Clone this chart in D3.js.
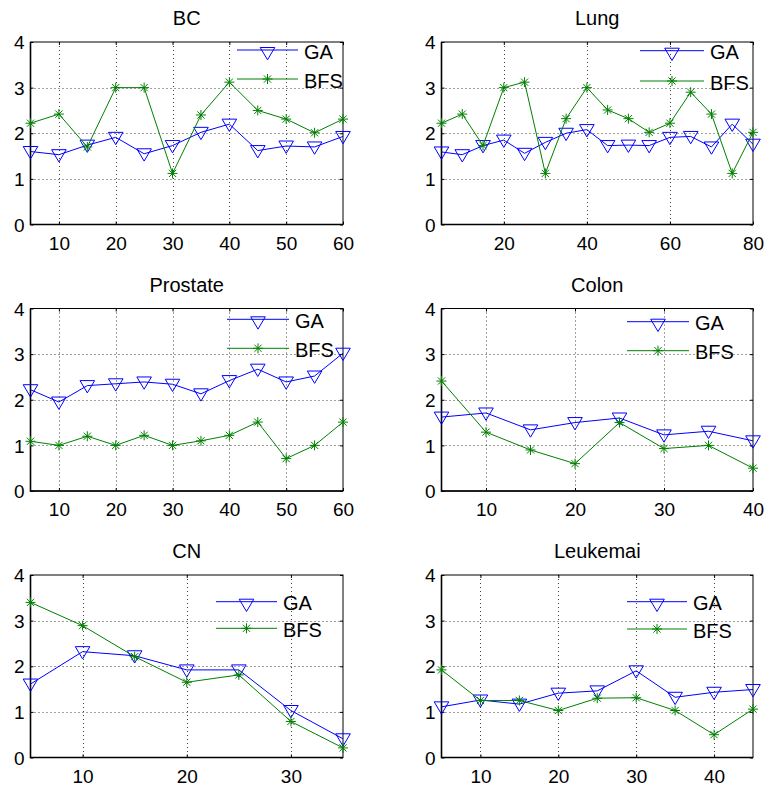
<!DOCTYPE html>
<html lang="en">
<head>
  <meta charset="UTF-8">
  <title>GA vs BFS</title>
  <script src="https://d3js.org/d3.v7.min.js"></script>
  <style>
    body { margin: 0; background: #fff; }
    svg { display: block; font-family: "Liberation Sans", Arial, sans-serif; }
    .tick text { font-size: 19px; fill: #000; }
    .tick line { stroke: #000; }
    .grid { stroke: #000; stroke-width: 1; stroke-dasharray: 1,3; opacity: 0.75; }
    .title { font-size: 20px; text-anchor: middle; }
    .legend text { font-size: 20px; }
  </style>
</head>
<body>
  <div id="chart"></div>
  <script>
    // --- data ---
    const titles = ["BC", "Lung", "Prostate", "Colon", "CN", "Leukemai"];

    const xBC = [5, 10, 15, 20, 25, 30, 35, 40, 45, 50, 55, 60];
    const gaBC = [1.6, 1.53, 1.74, 1.91, 1.55, 1.73, 2.02, 2.2, 1.62, 1.72, 1.7, 1.93];
    const bfsBC = [2.22, 2.42, 1.7, 3.0, 3.0, 1.12, 2.4, 3.12, 2.5, 2.31, 2.01, 2.31];

    const xLung = [5, 10, 15, 20, 25, 30, 35, 40, 45, 50, 55, 60, 65, 70, 75, 80];
    const gaLung = [1.59, 1.53, 1.73, 1.85, 1.56, 1.8, 2.0, 2.08, 1.73, 1.74, 1.73, 1.91, 1.93, 1.7, 2.2, 1.76];
    const bfsLung = [2.22, 2.42, 1.73, 3.0, 3.12, 1.12, 2.32, 3.0, 2.51, 2.32, 2.02, 2.22, 2.9, 2.42, 1.12, 2.02];

    const xProstate = [5, 10, 15, 20, 25, 30, 35, 40, 45, 50, 55, 60];
    const gaProstate = [2.22, 1.95, 2.31, 2.35, 2.39, 2.34, 2.13, 2.42, 2.67, 2.39, 2.52, 3.02];
    const bfsProstate = [1.09, 1.0, 1.2, 1.0, 1.22, 1.0, 1.1, 1.22, 1.51, 0.71, 1.0, 1.51];

    const xColon = [5, 10, 15, 20, 25, 30, 35, 40];
    const gaColon = [1.62, 1.71, 1.34, 1.5, 1.6, 1.23, 1.31, 1.1];
    const bfsColon = [2.41, 1.29, 0.9, 0.6, 1.5, 0.93, 1.0, 0.5];

    const xCN = [5, 10, 15, 20, 25, 30, 35];
    const gaCN = [1.61, 2.32, 2.23, 1.92, 1.92, 1.03, 0.41];
    const bfsCN = [3.4, 2.89, 2.21, 1.65, 1.81, 0.79, 0.21];

    const xLeuk = [5, 10, 15, 20, 25, 30, 35, 40, 45];
    const gaLeuk = [1.11, 1.26, 1.17, 1.41, 1.46, 1.9, 1.32, 1.43, 1.49];
    const bfsLeuk = [1.92, 1.25, 1.25, 1.03, 1.3, 1.31, 1.03, 0.5, 1.06];

    const xTicks = [
      [10, 20, 30, 40, 50, 60],
      [20, 40, 60, 80],
      [10, 20, 30, 40, 50, 60],
      [10, 20, 30, 40],
      [10, 20, 30],
      [10, 20, 30, 40]
    ];
    const yTicks = [0, 1, 2, 3, 4];
    const seriesNames = ["GA", "BFS"];

    // --- layout ---
    const width = 765, height = 789;
    const colLeft = [30.5, 441.5], colRight = [343, 753];
    const rowTop = [42, 308.5, 575], boxH = 182.5;
    // legend: line start / text start offsets from box right, line y offsets from box top
    const legendPos = [
      { line: -106, text: -39, y1: 8, y2: 37 },
      { line: -113, text: -43, y1: 8.7, y2: 39 },
      { line: -116, text: -48, y1: 10.8, y2: 39.8 },
      { line: -126, text: -58, y1: 13.2, y2: 42.2 },
      { line: -127, text: -60, y1: 26.7, y2: 53.3 },
      { line: -126, text: -60, y1: 26.7, y2: 54 }
    ];

    const panels = [
      [xBC, gaBC, bfsBC],
      [xLung, gaLung, bfsLung],
      [xProstate, gaProstate, bfsProstate],
      [xColon, gaColon, bfsColon],
      [xCN, gaCN, bfsCN],
      [xLeuk, gaLeuk, bfsLeuk]
    ];

    const colors = ["#0000ff", "#008000"];
    const triPath = "M-7.3,-5L7.3,-5L0,7.3Z";
    const starPath = "M-5,0L5,0M0,-5L0,5M-3.6,-3.6L3.6,3.6M-3.6,3.6L3.6,-3.6";

    const svg = d3.select("#chart").append("svg")
      .attr("width", width)
      .attr("height", height);

    panels.forEach((p, i) => {
      const [xs, ga, bfs] = p;
      const left = colLeft[i % 2], right = colRight[i % 2];
      const top = rowTop[Math.floor(i / 2)], bottom = top + boxH;

      const x = d3.scaleLinear().domain([xs[0], xs[xs.length - 1]]).range([left, right]);
      const y = d3.scaleLinear().domain([0, 4]).range([bottom, top]);

      const g = svg.append("g");

      // dotted grid
      g.selectAll(".gx").data(xTicks[i].filter(t => t < x.domain()[1]))
        .enter().append("line")
        .attr("class", "grid")
        .attr("x1", d => Math.round(x(d)) + 0.5).attr("x2", d => Math.round(x(d)) + 0.5)
        .attr("y1", top).attr("y2", bottom);
      g.selectAll(".gy").data(yTicks.filter(t => t > 0 && t < 4))
        .enter().append("line")
        .attr("class", "grid")
        .attr("y1", d => Math.round(y(d)) + 0.5).attr("y2", d => Math.round(y(d)) + 0.5)
        .attr("x1", left).attr("x2", right);

      // axes with inward ticks
      const ax = g.append("g").attr("transform", `translate(0,${bottom})`)
        .call(d3.axisBottom(x).tickValues(xTicks[i]).tickSize(-3).tickPadding(12));
      const ay = g.append("g").attr("transform", `translate(${left},0)`)
        .call(d3.axisLeft(y).tickValues(yTicks).tickSize(-3).tickPadding(6).tickFormat(d3.format("d")));
      g.append("g").attr("transform", `translate(0,${top})`)
        .call(d3.axisTop(x).tickValues(xTicks[i]).tickSize(-3).tickFormat(""));
      g.append("g").attr("transform", `translate(${right},0)`)
        .call(d3.axisRight(y).tickValues(yTicks).tickSize(-3).tickFormat(""));
      g.selectAll(".domain").remove();
      ax.selectAll("text").attr("font-size", null);
      ay.selectAll("text").attr("dy", "0.35em");

      // box
      g.append("rect")
        .attr("x", left).attr("y", top)
        .attr("width", right - left).attr("height", boxH)
        .attr("fill", "none").attr("stroke", "#000").attr("stroke-width", 1);
      g.append("path")
        .attr("d", `M${left},${top}L${left},${bottom}L${right},${bottom}`)
        .attr("fill", "none").attr("stroke", "#000").attr("stroke-width", 1.6);

      // title
      g.append("text").attr("class", "title")
        .attr("x", (left + right) / 2).attr("y", top - 17)
        .text(titles[i]);

      // series
      [ga, bfs].forEach((vals, k) => {
        const pts = xs.map((xv, j) => [x(xv), y(vals[j])]);
        g.append("path")
          .attr("d", d3.line()(pts))
          .attr("fill", "none")
          .attr("stroke", colors[k])
          .attr("stroke-width", 1);
        g.selectAll(null).data(pts).enter().append("path")
          .attr("d", k === 0 ? triPath : starPath)
          .attr("transform", d => `translate(${d[0]},${d[1]})`)
          .attr("fill", "none")
          .attr("stroke", colors[k])
          .attr("stroke-width", 1);
      });

      // legend
      const lp = legendPos[i];
      const lg = g.append("g").attr("class", "legend");
      [lp.y1, lp.y2].forEach((dy, k) => {
        const ly = top + dy;
        const x0 = right + lp.line, x1 = right + lp.text - 6;
        lg.append("line")
          .attr("x1", x0).attr("x2", x1)
          .attr("y1", ly).attr("y2", ly)
          .attr("stroke", colors[k]).attr("stroke-width", 1);
        lg.append("path")
          .attr("d", k === 0 ? triPath : starPath)
          .attr("transform", `translate(${(x0 + x1) / 2},${ly + (k === 0 ? 2.5 : 0)})`)
          .attr("fill", "none")
          .attr("stroke", colors[k]).attr("stroke-width", 1);
        lg.append("text")
          .attr("x", right + lp.text).attr("y", ly + 8.5)
          .text(seriesNames[k]);
      });
    });
  </script>
</body>
</html>
